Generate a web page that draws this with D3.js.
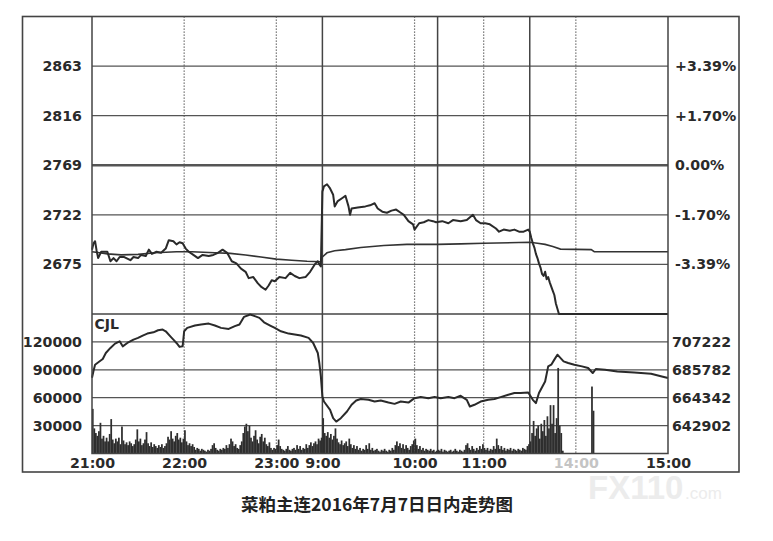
<!DOCTYPE html>
<html><head><meta charset="utf-8">
<script src="https://cdn.jsdelivr.net/npm/d3@7"></script>
<style>body{margin:0;background:#fff}svg{display:block}</style>
</head><body><svg id="c" width="773" height="541"></svg>
<script>
// ---- axis tick values / labels ----
const priceTicks = [2863, 2816, 2769, 2722, 2675];
const percentLabels = ["+3.39%", "+1.70%", "0.00%", "-1.70%", "-3.39%"];
const volumeTicks = [120000, 90000, 60000, 30000];
const oiTicks = [707222, 685782, 664342, 642902];
const timeTicks = [0, 60, 120, 150, 210, 255, 315, 375];   // minute index of the trading day
const timeLabels = ["21:00", "22:00", "23:00", "9:00", "10:00", "11:00", "14:00", "15:00"];
const sessionBreaks = [150, 225, 285];                     // 23:30|9:00, 10:15|10:30, 11:30|13:30
const dottedHours = [60, 120, 210, 255, 315];

// ---- price line (minute index, price) ----
const priceMin = [0,1,2,3,4,6,10,12,14,16,18,21,25,27,30,32,35,37,39,42,45,48,50,53,55,57,59,61,63,66,69,72,76,79,82,85,88,91,94,97,100,102,105,108,110,113,115,117,119,122,126,129,132,135,139,142,145,147,148,149,
  150,151,153,155,157,158,160,163,165,167,168,169,173,178,181,184,186,189,192,195,198,201,203,206,209,210,213,216,219,222,224,228,232,235,240,244,248,250,253,256,259,263,265,268,272,275,278,281,284,
  285,286,287,288,289,290,291,292,293,294,295,296,297,298,299,300,301,302,303,304,375];
const priceVal = [2689,2695,2697,2688,2681,2687,2687,2678,2681,2678,2682,2682,2679,2682,2681,2684,2683,2689,2685,2687,2686,2690,2698,2697,2694,2696,2695,2690,2687,2684,2681,2684,2683,2684,2686,2689,2686,2678,2676,2671,2668,2662,2663,2657,2654,2651,2655,2660,2659,2663,2662,2667,2664,2662,2663,2668,2675,2678,2675,2673,
  2744,2749,2751,2747,2741,2730,2735,2738,2740,2730,2722,2728,2729,2730,2731,2733,2728,2725,2724,2726,2727,2724,2722,2716,2713,2708,2714,2715,2717,2716,2715,2716,2714,2717,2716,2717,2722,2717,2714,2714,2713,2709,2706,2708,2707,2708,2706,2706,2708,
  2706,2700,2695,2691,2685,2681,2676,2672,2666,2664,2668,2661,2663,2658,2654,2650,2646,2638,2633,2628,2628];

// ---- average price line ----
const avgMin = [0,5,10,19,30,41,55,65,80,90,100,110,120,130,140,149,150,153,158,165,175,190,205,225,240,255,285,290,295,300,305,325,327,375];
const avgVal = [2687,2686,2685,2684,2684.5,2686,2687,2687,2686,2685.5,2684,2682,2680,2679,2678,2677.5,2682,2686,2688,2689,2691,2693,2694,2694,2694.5,2695,2696,2695,2694,2692,2689.5,2689,2687,2687];

// ---- open interest line (right axis of lower panel) ----
const oiMin = [0,1,2,5,7,9,12,15,18,20,23,27,30,33,36,40,43,46,48,51,53,55,57,59,60,62,67,71,76,80,84,89,93,96,99,103,106,109,112,116,119,123,128,132,136,141,144,147,148,149,
  150,151,155,157,159,162,166,169,172,175,180,184,188,193,197,201,206,210,214,219,223,227,232,236,240,244,246,249,253,258,262,266,271,275,279,284,287,289,291,295,297,299,301,303,307,310,314,319,323,326,328,334,342,353,364,371,375];
const oiVal = [679700,685100,689700,692300,694100,698700,702600,705900,707700,703800,706400,709000,710300,712100,713600,714600,716200,716700,715400,711500,709000,706400,703400,703800,715400,718000,719800,720600,721300,719800,718000,717200,719300,720600,726500,728300,727000,725700,722300,719800,718000,715400,713600,712900,712100,710300,706400,698700,691000,680700,
  665300,661400,655000,648600,646000,648600,653700,658900,662200,663300,662700,661400,662200,660600,659600,661400,660600,664000,664800,664000,664800,664000,664800,664000,665800,662700,657600,658900,661400,662700,663300,664800,666600,667900,667900,668400,662700,660200,667900,676800,688400,689700,693600,697400,692300,691000,689700,688400,687200,683300,686400,685900,684500,683800,682800,680700,679500];

// ---- per-minute volume (CJL), minutes 0..374 ----
const volume = [
 48000,27000,22000,19000,24000,33000,16000,19000,13000,17000,
 13000,21000,37000,15000,11000,16000,13000,17000,10000,29000,
 14000,10000,12000,9000,13000,11000,8000,10000,15000,26000,
 13000,16000,9000,11000,15000,23000,11000,8000,12000,7000,
 10000,8000,6000,9000,7000,10000,6000,8000,11000,18000,
 15000,24000,16000,13000,19000,22000,15000,17000,12000,16000,
 25000,13000,9000,11000,8000,10000,7000,4000,6000,5000,
 3000,5000,4000,3000,2000,4000,3000,5000,9000,11000,
 6000,4000,3000,5000,4000,6000,5000,9000,6000,10000,
 16000,13000,8000,10000,6000,5000,9000,13000,22000,29000,
 32000,24000,30000,17000,13000,19000,25000,15000,11000,18000,
 21000,13000,17000,10000,8000,12000,6000,4000,6000,5000,
 9000,15000,8000,5000,4000,3000,5000,8000,4000,3000,
 5000,6000,4000,9000,5000,8000,4000,6000,5000,10000,
 6000,9000,12000,8000,11000,13000,10000,16000,14000,17000,
 38000,22000,19000,23000,17000,21000,15000,19000,27000,16000,
 12000,10000,14000,9000,11000,13000,8000,16000,10000,6000,
 9000,5000,8000,4000,6000,3000,5000,4000,9000,5000,
 11000,4000,6000,3000,4000,5000,3000,2000,4000,3000,
 5000,3000,2000,4000,3000,6000,4000,9000,13000,8000,
 11000,6000,10000,5000,9000,6000,4000,8000,10000,14000,
 16000,9000,5000,8000,4000,6000,3000,5000,4000,3000,
 5000,3000,4000,2000,3000,4000,3000,5000,2000,4000,
 3000,2000,3000,4000,2000,3000,5000,3000,2000,4000,
 3000,2000,4000,9000,11000,6000,4000,8000,5000,3000,
 6000,4000,8000,5000,10000,6000,4000,6000,3000,5000,
 4000,8000,5000,16000,9000,5000,8000,4000,6000,3000,
 5000,4000,6000,3000,5000,4000,3000,5000,4000,3000,
 6000,5000,4000,8000,10000,13000,22000,35000,19000,27000,
 30000,16000,32000,24000,36000,19000,40000,27000,52000,32000,
 52000,22000,38000,92000,30000,22000,3000,0,0,0,
 0,0,0,0,0,0,0,0,0,0,
 0,0,0,0,0,72000,46000,0,0,0,
 0,0,0,0,0,0,0,0,0,0,
 0,0,0,0,0,0,0,0,0,0,
 0,0,0,0,0,0,0,0,0,0,
 0,0,0,0,0,0,0,0,0,0,
 0,0,0,0,0
];

const caption = "菜粕主连2016年7月7日日内走势图";

// ---- drawing ----
const svg = d3.select("#c");
svg.append("rect").attr("width", 773).attr("height", 541).attr("fill", "#fff");

const L = 92, R = 668, T = 16.5, MID = 314, B = 453.5;
const x = d3.scaleLinear().domain([0, 375]).range([L, R]);
const yP = d3.scaleLinear().domain([2628, 2910]).range([MID, T]);
const yV = d3.scaleLinear().domain([0, 150000]).range([B, MID]);
const yO = d3.scaleLinear().domain([621462, 728662]).range([B, MID]);

const ink = "#2a2a2a";
const gridC = "#555";
const font = "'DejaVu Sans', Verdana, sans-serif";

// watermark (behind everything)
const wm = svg.append("g").attr("fill", "#ececec").attr("font-family", "'Liberation Sans', Arial, sans-serif").attr("font-weight", "bold");
wm.append("text").attr("x", 588).attr("y", 499).attr("font-size", 33).text("FX110");
wm.append("text").attr("x", 685).attr("y", 499).attr("font-size", 17).attr("font-weight", "normal").text(".com");

// outer frame
svg.append("rect").attr("x", 22.5).attr("y", T).attr("width", 716.5).attr("height", 472 - T)
  .attr("fill", "none").attr("stroke", "#444").attr("stroke-width", 1.6);

// horizontal grid (price panel)
const g = svg.append("g");
g.selectAll("line.pg").data(priceTicks).join("line")
  .attr("x1", L).attr("x2", R).attr("y1", d => yP(d)).attr("y2", d => yP(d))
  .attr("stroke", gridC).attr("stroke-width", d => d === 2769 ? 2.5 : 1.2);
// panel separator
g.append("line").attr("x1", L).attr("x2", R).attr("y1", MID).attr("y2", MID).attr("stroke", "#444").attr("stroke-width", 1.6);
// volume grid
g.selectAll("line.vg").data(volumeTicks).join("line")
  .attr("x1", L).attr("x2", R).attr("y1", d => yV(d)).attr("y2", d => yV(d))
  .attr("stroke", gridC).attr("stroke-width", 1.2);

// vertical lines
g.selectAll("line.dot").data(dottedHours).join("line")
  .attr("x1", d => x(d)).attr("x2", d => x(d)).attr("y1", T).attr("y2", B)
  .attr("stroke", "#555").attr("stroke-width", 1.2).attr("stroke-dasharray", "1.2,1.8");
g.selectAll("line.sess").data(sessionBreaks).join("line")
  .attr("x1", d => x(d)).attr("x2", d => x(d)).attr("y1", T).attr("y2", B)
  .attr("stroke", "#444").attr("stroke-width", 1.5);

// volume bars
svg.append("g").selectAll("rect").data(volume.map((v, i) => ({m: i, v})).filter(d => d.v > 0)).join("rect")
  .attr("x", d => x(d.m) - 0.1).attr("width", 1.75)
  .attr("y", d => yV(d.v)).attr("height", d => B - yV(d.v))
  .attr("fill", "#2e2e2e");

// lines
const mk = (ms, vs) => ms.map((m, i) => ({m, v: vs[i]}));
svg.append("path").datum(mk(avgMin, avgVal))
  .attr("d", d3.line().x(d => x(d.m)).y(d => yP(d.v)))
  .attr("fill", "none").attr("stroke", "#333").attr("stroke-width", 1.6);
svg.append("path").datum(mk(priceMin, priceVal))
  .attr("d", d3.line().x(d => x(d.m)).y(d => yP(d.v)))
  .attr("fill", "none").attr("stroke", ink).attr("stroke-width", 2).attr("stroke-linejoin", "round");
svg.append("path").datum(mk(oiMin, oiVal))
  .attr("d", d3.line().x(d => x(d.m)).y(d => yO(d.v)))
  .attr("fill", "none").attr("stroke", ink).attr("stroke-width", 2).attr("stroke-linejoin", "round");

// plot border
svg.append("path").attr("d", `M${L},${T}V${B}H${R}V${T}`).attr("fill", "none").attr("stroke", "#444").attr("stroke-width", 1.5);

// axes
function styleAxis(sel) {
  sel.select(".domain").remove();
  sel.selectAll("line").remove();
  sel.selectAll("text").attr("font-family", font).attr("font-weight", "bold").attr("font-size", 14.2).attr("fill", "#2a2a2a");
}
svg.append("g").attr("transform", `translate(${L},0)`)
  .call(d3.axisLeft(yP).tickValues(priceTicks).tickFormat(d3.format("d")).tickSize(0).tickPadding(10)).call(styleAxis);
svg.append("g").attr("transform", `translate(${R},0)`)
  .call(d3.axisRight(yP).tickValues(priceTicks).tickFormat((d, i) => percentLabels[i]).tickSize(0).tickPadding(7)).call(styleAxis);
svg.append("g").attr("transform", `translate(${L},0)`)
  .call(d3.axisLeft(yV).tickValues(volumeTicks).tickFormat(d3.format("d")).tickSize(0).tickPadding(10)).call(styleAxis);
svg.append("g").attr("transform", `translate(${R},0)`)
  .call(d3.axisRight(yO).tickValues(oiTicks).tickFormat(d3.format("d")).tickSize(0).tickPadding(4)).call(styleAxis);
const xa = svg.append("g").attr("transform", `translate(0,${B})`)
  .call(d3.axisBottom(x).tickValues(timeTicks).tickFormat((d, i) => timeLabels[i]).tickSize(0).tickPadding(4)).call(styleAxis);
xa.selectAll("text").filter(d => d === 315).attr("fill", "#c4c4c4");

// CJL label
svg.append("text").attr("x", 94.5).attr("y", 329).attr("font-family", font).attr("font-weight", "bold")
  .attr("font-size", 14).attr("fill", "#2a2a2a").text("CJL");

// caption
svg.append("text").attr("x", 377).attr("y", 511).attr("text-anchor", "middle")
  .attr("font-family", "'Noto Sans CJK SC', sans-serif").attr("font-weight", "bold")
  .attr("font-size", 17.5).attr("fill", "#222").text(caption);
</script></body></html>
